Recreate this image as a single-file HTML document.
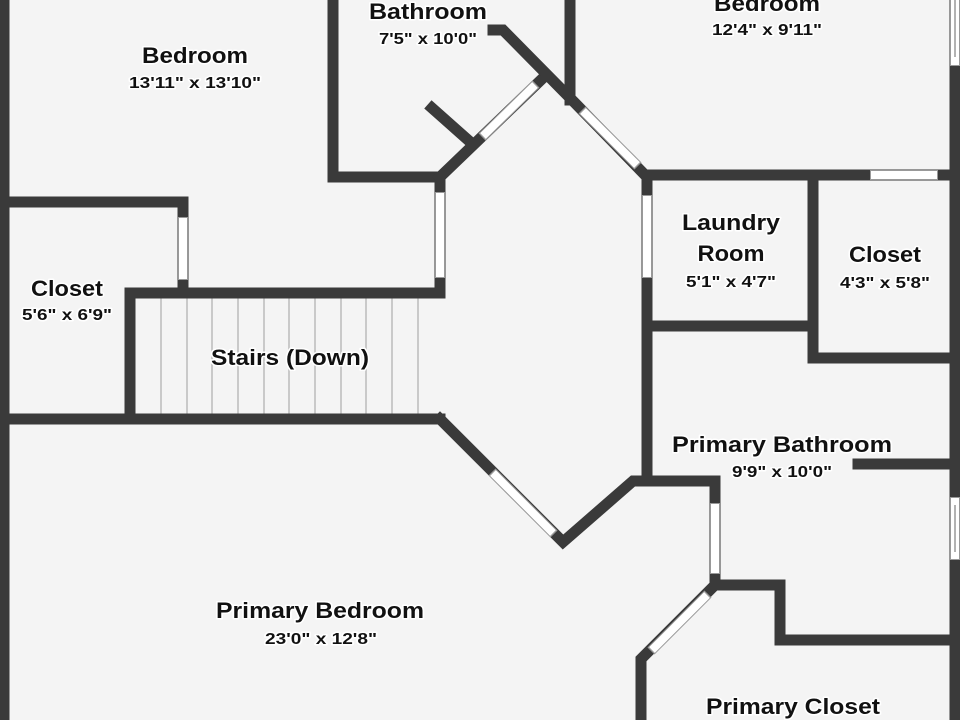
<!DOCTYPE html>
<html><head><meta charset="utf-8"><style>
html,body{margin:0;padding:0;background:#f4f4f4}
svg{display:block}
.t{font-family:"Liberation Sans",sans-serif;font-weight:bold;fill:#111;stroke:#fff;stroke-width:3;paint-order:stroke;stroke-linejoin:round}
.n{font-size:22px}
.d{font-size:16px}
</style></head><body>
<svg width="960" height="720" viewBox="0 0 960 720" xmlns="http://www.w3.org/2000/svg">
<rect width="960" height="720" fill="#f4f4f4"/>
<g stroke="#bbb" stroke-width="1.5">
<line x1="161" y1="298" x2="161" y2="414"/><line x1="187" y1="298" x2="187" y2="414"/>
<line x1="212" y1="298" x2="212" y2="414"/><line x1="238" y1="298" x2="238" y2="414"/>
<line x1="264" y1="298" x2="264" y2="414"/><line x1="289" y1="298" x2="289" y2="414"/>
<line x1="315" y1="298" x2="315" y2="414"/><line x1="341" y1="298" x2="341" y2="414"/>
<line x1="366" y1="298" x2="366" y2="414"/><line x1="392" y1="298" x2="392" y2="414"/>
<line x1="418" y1="298" x2="418" y2="414"/>
</g>
<g fill="none" stroke="#3a3a3a" stroke-width="11" stroke-linejoin="miter" stroke-linecap="square">
<line x1="4" y1="0" x2="4" y2="720"/>
<line x1="955" y1="0" x2="955" y2="720"/>
<polyline points="4,202 183,202 183,293"/>
<polyline points="130,419 130,293 440,293 440,177 333,177 333,0"/>
<line x1="4" y1="419" x2="440" y2="419"/>
<polyline points="440,177 543,78"/>
<line x1="468" y1="140" x2="432" y2="108"/>
<polyline points="493,30 503,30 575,103 645,175 950,175"/>
<line x1="570" y1="0" x2="570" y2="100"/>
<polyline points="440,419 563,542 633,481 715,481 715,585 780,585 780,640 950,640"/>
<line x1="647" y1="175" x2="647" y2="481"/>
<line x1="647" y1="326" x2="813" y2="326"/>
<polyline points="813,175 813,358 950,358"/>
<line x1="858" y1="464" x2="950" y2="464"/>
<polyline points="715,585 641,659 641,720"/>
</g>
<g stroke="#999" stroke-width="10" stroke-linecap="butt">
<line x1="183" y1="217" x2="183" y2="280"/>
<line x1="440" y1="192" x2="440" y2="278"/>
<line x1="482" y1="137" x2="536" y2="84"/>
<line x1="582" y1="110" x2="638" y2="166"/>
<line x1="647" y1="195" x2="647" y2="278"/>
<line x1="870" y1="175" x2="938" y2="175"/>
<line x1="492" y1="472" x2="554" y2="534"/>
<line x1="715" y1="503" x2="715" y2="574"/>
<line x1="708" y1="594" x2="651" y2="651"/>
<line x1="955" y1="0" x2="955" y2="66"/>
<line x1="955" y1="497" x2="955" y2="560"/>
</g>
<g stroke="#fff" stroke-width="8" stroke-linecap="butt">
<line x1="183" y1="218" x2="183" y2="279"/>
<line x1="440" y1="193" x2="440" y2="277"/>
<line x1="483" y1="136" x2="535" y2="85"/>
<line x1="583" y1="111" x2="637" y2="165"/>
<line x1="647" y1="196" x2="647" y2="277"/>
<line x1="871" y1="175" x2="937" y2="175"/>
<line x1="493" y1="473" x2="553" y2="533"/>
<line x1="715" y1="504" x2="715" y2="573"/>
<line x1="707" y1="595" x2="652" y2="650"/>
<line x1="955" y1="0" x2="955" y2="65"/>
<line x1="955" y1="498" x2="955" y2="559"/>
</g>
<g stroke="#666" stroke-width="1">
<line x1="955" y1="0" x2="955" y2="57"/>
<line x1="955" y1="505" x2="955" y2="552"/>
</g>
<g text-anchor="middle">
<text class="t n" x="195" y="63" textLength="106" lengthAdjust="spacingAndGlyphs">Bedroom</text>
<text class="t d" x="195" y="88" textLength="132" lengthAdjust="spacingAndGlyphs">13'11" x 13'10"</text>
<text class="t n" x="428" y="19" textLength="118" lengthAdjust="spacingAndGlyphs">Bathroom</text>
<text class="t d" x="428" y="44" textLength="98" lengthAdjust="spacingAndGlyphs">7'5" x 10'0"</text>
<text class="t n" x="767" y="11" textLength="106" lengthAdjust="spacingAndGlyphs">Bedroom</text>
<text class="t d" x="767" y="35" textLength="110" lengthAdjust="spacingAndGlyphs">12'4" x 9'11"</text>
<text class="t n" x="67" y="296" textLength="72" lengthAdjust="spacingAndGlyphs">Closet</text>
<text class="t d" x="67" y="320" textLength="90" lengthAdjust="spacingAndGlyphs">5'6" x 6'9"</text>
<text class="t n" x="290" y="365" textLength="158" lengthAdjust="spacingAndGlyphs">Stairs (Down)</text>
<text class="t n" x="731" y="230" textLength="98" lengthAdjust="spacingAndGlyphs">Laundry</text>
<text class="t n" x="731" y="261" textLength="67" lengthAdjust="spacingAndGlyphs">Room</text>
<text class="t d" x="731" y="287" textLength="90" lengthAdjust="spacingAndGlyphs">5'1" x 4'7"</text>
<text class="t n" x="885" y="262" textLength="72" lengthAdjust="spacingAndGlyphs">Closet</text>
<text class="t d" x="885" y="288" textLength="90" lengthAdjust="spacingAndGlyphs">4'3" x 5'8"</text>
<text class="t n" x="782" y="452" textLength="220" lengthAdjust="spacingAndGlyphs">Primary Bathroom</text>
<text class="t d" x="782" y="477" textLength="100" lengthAdjust="spacingAndGlyphs">9'9" x 10'0"</text>
<text class="t n" x="320" y="618" textLength="208" lengthAdjust="spacingAndGlyphs">Primary Bedroom</text>
<text class="t d" x="321" y="644" textLength="112" lengthAdjust="spacingAndGlyphs">23'0" x 12'8"</text>
<text class="t n" x="793" y="714" textLength="174" lengthAdjust="spacingAndGlyphs">Primary Closet</text>
</g>
</svg>
</body></html>
